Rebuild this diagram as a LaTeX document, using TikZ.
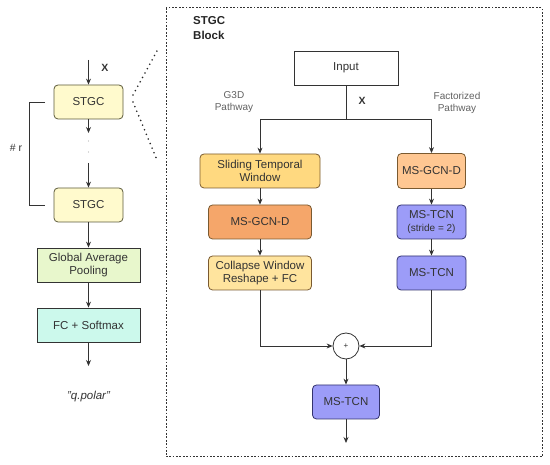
\documentclass[tikz,border=0pt]{standalone}
\usepackage{fontspec}
\setmainfont{Liberation Sans}
\usetikzlibrary{arrows.meta}
\definecolor{txt}{HTML}{333333}
\definecolor{stgcfill}{HTML}{FFFACD}
\definecolor{stgcdraw}{HTML}{5C5A3A}
\definecolor{gapfill}{HTML}{E8F7CC}
\definecolor{fcfill}{HTML}{CCF9EC}
\definecolor{slidefill}{HTML}{FFD980}
\definecolor{collfill}{HTML}{FFE49E}
\definecolor{gcnLfill}{HTML}{F5A66A}
\definecolor{gcnRfill}{HTML}{FFC792}
\definecolor{tcnfill}{HTML}{9C9CF8}
\definecolor{tcndraw}{HTML}{33336E}
\definecolor{ordraw}{HTML}{7A5A30}
\begin{document}
\begin{tikzpicture}[x=1pt,y=-1pt,
  every node/.style={font=\fontsize{11.5}{13.5}\selectfont, text=txt, align=center, inner sep=1pt},
  box/.style={draw=txt, line width=0.8pt, minimum height=34pt},
  rbox/.style={box, rounded corners=4pt},
  small/.style={font=\fontsize{10}{12.5}\selectfont, text=black!62},
  conn/.style={draw=txt, line width=0.8pt},
  arr/.style={conn, -{Stealth[length=6pt,width=5pt]}},
  dotline/.style={draw=black!85, line width=1.8pt, dash pattern=on 0pt off 5pt, line cap=round}
]
\useasboundingbox (0,0) rectangle (550,465);
% left column
\coordinate (xin) at (88.5,60);
\node[rbox, fill=stgcfill, draw=stgcdraw, minimum width=69pt] (stgc1) at (88.5,102) {STGC};
\node[rbox, fill=stgcfill, draw=stgcdraw, minimum width=69pt] (stgc2) at (88.5,205) {STGC};
\node[box, fill=gapfill, minimum width=103pt] (gap) at (88.5,265) {Global Average\\Pooling};
\node[box, fill=fcfill, minimum width=103pt] (fc) at (88.5,325) {FC + Softmax};
\node (qpolar) at (88.5,397) {\itshape ''q.polar''};
\coordinate (xout) at (88.5,366);
\coordinate (d1) at (88.5,133);
\coordinate (d2) at (88.5,163);
\node[font=\fontsize{10.5}{12}\selectfont\bfseries] (xl) at (105,68) {X};
\draw[arr] (xin) -- (stgc1);
\draw[arr] (stgc1) -- (d1);
\fill[black!30] (88.5,141) circle (0.6pt) (88.5,152) circle (0.6pt);
\draw[arr] (d2) -- (stgc2);
\draw[arr] (stgc2) -- (gap);
\draw[arr] (gap) -- (fc);
\draw[arr] (fc) -- (xout);
% bracket
\coordinate (b1) at (45,102);
\coordinate (b2) at (45,205);
\draw[conn] (b1) -- (29,102) -- (29,205) -- (b2);
\node[font=\fontsize{10.5}{12}\selectfont] (rl) at (16,148) {\# r};
% zoom lines
\coordinate (z1) at (133,95);
\coordinate (z2) at (157,51);
\coordinate (z3) at (133,102);
\coordinate (z4) at (157,160);
\draw[dotline] (z1) -- (z2);
\draw[dotline] (z3) -- (z4);
% block
\draw[black!80, line width=1pt, dash pattern=on 1.8pt off 1.6pt] (166,8) rectangle (542,457);
\node[font=\fontsize{11.5}{15}\selectfont\bfseries, text=black!85, align=left, anchor=north west] (title) at (192,15) {STGC\\Block};
\node[box, fill=white, minimum width=104pt] (input) at (346,68) {Input};
\coordinate (fork) at (346,119);
\coordinate (forkL) at (260,119);
\coordinate (forkR) at (431.5,119);
\node[font=\fontsize{10.5}{12}\selectfont\bfseries] (xb) at (362,101) {X};
\node[small] (g3d) at (234,102) {G3D\\Pathway};
\node[small] (fact) at (457,103) {Factorized\\Pathway};
\node[rbox, fill=slidefill, draw=ordraw, minimum width=120pt] (slide) at (260,171) {Sliding Temporal\\Window};
\node[rbox, fill=gcnLfill, draw=ordraw, minimum width=103pt] (gcnL) at (260,222) {MS-GCN-D};
\node[rbox, fill=collfill, draw=ordraw, minimum width=103pt] (coll) at (260,273) {Collapse Window\\Reshape + FC};
\node[rbox, fill=gcnRfill, draw=ordraw, minimum width=68pt, minimum height=35pt] (gcnR) at (431.5,171) {MS-GCN-D};
\node[rbox, fill=tcnfill, draw=tcndraw, minimum width=69pt] (tcn1) at (431.5,222) {MS-TCN\\{\fontsize{10}{11}\selectfont(stride = 2)}};
\node[rbox, fill=tcnfill, draw=tcndraw, minimum width=69pt] (tcn2) at (431.5,273) {MS-TCN};
\node[circle, draw=txt, line width=0.8pt, fill=white, minimum size=26pt, inner sep=0pt, font=\fontsize{8}{9}\selectfont] (plus) at (346,346) {+};
\node[rbox, fill=tcnfill, draw=tcndraw, minimum width=67pt] (tcn3) at (346,402) {MS-TCN};
\coordinate (bout) at (346,443);
\draw[conn] (input) -- (fork);
\draw[conn] (forkL) -- (forkR);
\draw[arr] (forkL) -- (slide);
\draw[arr] (forkR) -- (gcnR);
\draw[arr] (slide) -- (gcnL);
\draw[arr] (gcnL) -- (coll);
\draw[arr] (gcnR) -- (tcn1);
\draw[arr] (tcn1) -- (tcn2);
\draw[arr] (coll.south) |- (plus.west);
\draw[arr] (tcn2.south) |- (plus.east);
\draw[arr] (plus) -- (tcn3);
\draw[arr] (tcn3) -- (bout);
\end{tikzpicture}
\end{document}
